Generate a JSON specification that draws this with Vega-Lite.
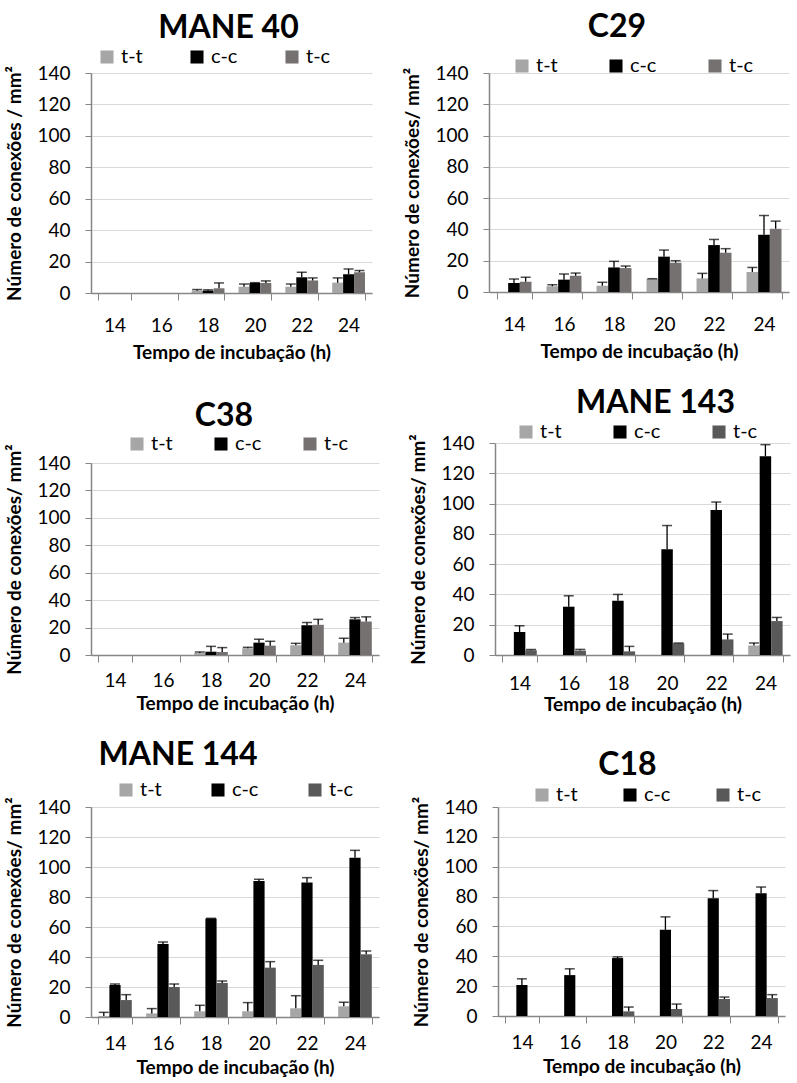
{
  "$schema": "https://vega.github.io/schema/vega-lite/v6.json",
  "background": "white",
  "padding": {"left": 5, "top": 11, "right": 5, "bottom": 0},
  "datasets": {
    "d": [
      {"p": "MANE 40", "t": 18, "s": "t-t", "v": 1.5, "u": 2.2},
      {"p": "MANE 40", "t": 18, "s": "c-c", "v": 1.5, "u": 2.0},
      {"p": "MANE 40", "t": 18, "s": "t-c", "v": 3.0, "u": 6.4},
      {"p": "MANE 40", "t": 20, "s": "t-t", "v": 4.0, "u": 5.7},
      {"p": "MANE 40", "t": 20, "s": "c-c", "v": 6.4, "u": 6.6},
      {"p": "MANE 40", "t": 20, "s": "t-c", "v": 6.4, "u": 7.7},
      {"p": "MANE 40", "t": 22, "s": "t-t", "v": 4.0, "u": 5.7},
      {"p": "MANE 40", "t": 22, "s": "c-c", "v": 10.0, "u": 13.2},
      {"p": "MANE 40", "t": 22, "s": "t-c", "v": 8.0, "u": 9.6},
      {"p": "MANE 40", "t": 24, "s": "t-t", "v": 6.6, "u": 9.6},
      {"p": "MANE 40", "t": 24, "s": "c-c", "v": 12.0, "u": 15.3},
      {"p": "MANE 40", "t": 24, "s": "t-c", "v": 13.2, "u": 14.3},

      {"p": "C29", "t": 14, "s": "c-c", "v": 5.7, "u": 8.3},
      {"p": "C29", "t": 14, "s": "t-c", "v": 6.6, "u": 9.4},
      {"p": "C29", "t": 16, "s": "t-t", "v": 3.6, "u": 4.7},
      {"p": "C29", "t": 16, "s": "c-c", "v": 7.9, "u": 11.5},
      {"p": "C29", "t": 16, "s": "t-c", "v": 10.4, "u": 12.1},
      {"p": "C29", "t": 18, "s": "t-t", "v": 4.0, "u": 6.2},
      {"p": "C29", "t": 18, "s": "c-c", "v": 15.7, "u": 19.6},
      {"p": "C29", "t": 18, "s": "t-c", "v": 15.3, "u": 16.6},
      {"p": "C29", "t": 20, "s": "t-t", "v": 8.3, "u": 8.5},
      {"p": "C29", "t": 20, "s": "c-c", "v": 22.6, "u": 26.8},
      {"p": "C29", "t": 20, "s": "t-c", "v": 18.7, "u": 20.0},
      {"p": "C29", "t": 22, "s": "t-t", "v": 8.7, "u": 11.9},
      {"p": "C29", "t": 22, "s": "c-c", "v": 30.0, "u": 33.6},
      {"p": "C29", "t": 22, "s": "t-c", "v": 25.1, "u": 27.7},
      {"p": "C29", "t": 24, "s": "t-t", "v": 12.8, "u": 15.7},
      {"p": "C29", "t": 24, "s": "c-c", "v": 36.6, "u": 48.9},
      {"p": "C29", "t": 24, "s": "t-c", "v": 40.4, "u": 45.3},

      {"p": "C38", "t": 18, "s": "t-t", "v": 1.5, "u": 2.2},
      {"p": "C38", "t": 18, "s": "c-c", "v": 2.4, "u": 6.3},
      {"p": "C38", "t": 18, "s": "t-c", "v": 2.2, "u": 5.4},
      {"p": "C38", "t": 20, "s": "t-t", "v": 4.9, "u": 5.6},
      {"p": "C38", "t": 20, "s": "c-c", "v": 9.0, "u": 11.5},
      {"p": "C38", "t": 20, "s": "t-c", "v": 6.8, "u": 10.0},
      {"p": "C38", "t": 22, "s": "t-t", "v": 7.1, "u": 8.5},
      {"p": "C38", "t": 22, "s": "c-c", "v": 21.7, "u": 23.7},
      {"p": "C38", "t": 22, "s": "t-c", "v": 22.0, "u": 26.0},
      {"p": "C38", "t": 24, "s": "t-t", "v": 9.0, "u": 12.2},
      {"p": "C38", "t": 24, "s": "c-c", "v": 26.0, "u": 27.3},
      {"p": "C38", "t": 24, "s": "t-c", "v": 24.4, "u": 27.8},

      {"p": "MANE 143", "t": 14, "s": "c-c", "v": 15.2, "u": 19.3},
      {"p": "MANE 143", "t": 14, "s": "t-c", "v": 3.1, "u": 3.7},
      {"p": "MANE 143", "t": 16, "s": "c-c", "v": 31.9, "u": 39.1},
      {"p": "MANE 143", "t": 16, "s": "t-c", "v": 2.9, "u": 3.7},
      {"p": "MANE 143", "t": 18, "s": "c-c", "v": 35.8, "u": 40.0},
      {"p": "MANE 143", "t": 18, "s": "t-c", "v": 2.4, "u": 5.7},
      {"p": "MANE 143", "t": 20, "s": "c-c", "v": 69.9, "u": 85.5},
      {"p": "MANE 143", "t": 20, "s": "t-c", "v": 7.7, "u": 7.9},
      {"p": "MANE 143", "t": 22, "s": "c-c", "v": 95.8, "u": 101.0},
      {"p": "MANE 143", "t": 22, "s": "t-c", "v": 10.3, "u": 13.8},
      {"p": "MANE 143", "t": 24, "s": "t-t", "v": 6.2, "u": 7.9},
      {"p": "MANE 143", "t": 24, "s": "c-c", "v": 131.2, "u": 138.9},
      {"p": "MANE 143", "t": 24, "s": "t-c", "v": 22.4, "u": 24.8},

      {"p": "MANE 144", "t": 14, "s": "t-t", "v": 0.7, "u": 3.1},
      {"p": "MANE 144", "t": 14, "s": "c-c", "v": 21.3, "u": 22.0},
      {"p": "MANE 144", "t": 14, "s": "t-c", "v": 11.3, "u": 14.9},
      {"p": "MANE 144", "t": 16, "s": "t-t", "v": 2.4, "u": 5.6},
      {"p": "MANE 144", "t": 16, "s": "c-c", "v": 48.7, "u": 50.0},
      {"p": "MANE 144", "t": 16, "s": "t-c", "v": 20.0, "u": 22.0},
      {"p": "MANE 144", "t": 18, "s": "t-t", "v": 3.8, "u": 7.8},
      {"p": "MANE 144", "t": 18, "s": "c-c", "v": 65.6, "u": 65.8},
      {"p": "MANE 144", "t": 18, "s": "t-c", "v": 22.7, "u": 24.0},
      {"p": "MANE 144", "t": 20, "s": "t-t", "v": 3.8, "u": 9.6},
      {"p": "MANE 144", "t": 20, "s": "c-c", "v": 90.7, "u": 91.8},
      {"p": "MANE 144", "t": 20, "s": "t-c", "v": 32.9, "u": 36.9},
      {"p": "MANE 144", "t": 22, "s": "t-t", "v": 5.8, "u": 14.2},
      {"p": "MANE 144", "t": 22, "s": "c-c", "v": 89.6, "u": 92.9},
      {"p": "MANE 144", "t": 22, "s": "t-c", "v": 34.7, "u": 37.8},
      {"p": "MANE 144", "t": 24, "s": "t-t", "v": 7.1, "u": 9.8},
      {"p": "MANE 144", "t": 24, "s": "c-c", "v": 106.2, "u": 111.1},
      {"p": "MANE 144", "t": 24, "s": "t-c", "v": 41.8, "u": 44.0},

      {"p": "C18", "t": 14, "s": "c-c", "v": 20.7, "u": 24.9},
      {"p": "C18", "t": 16, "s": "c-c", "v": 27.4, "u": 31.6},
      {"p": "C18", "t": 18, "s": "c-c", "v": 38.8, "u": 39.6},
      {"p": "C18", "t": 18, "s": "t-c", "v": 3.1, "u": 6.0},
      {"p": "C18", "t": 20, "s": "c-c", "v": 57.7, "u": 66.4},
      {"p": "C18", "t": 20, "s": "t-c", "v": 4.7, "u": 8.0},
      {"p": "C18", "t": 22, "s": "c-c", "v": 78.8, "u": 84.0},
      {"p": "C18", "t": 22, "s": "t-c", "v": 11.4, "u": 12.7},
      {"p": "C18", "t": 24, "s": "c-c", "v": 82.2, "u": 86.4},
      {"p": "C18", "t": 24, "s": "t-c", "v": 12.0, "u": 14.3}
    ]
  },
  "spacing": 25,
  "resolve": {"scale": {"x": "independent", "y": "independent", "xOffset": "independent", "color": "independent"}, "legend": {"color": "independent"}, "axis": {"x": "independent", "y": "independent"}},
  "vconcat": [
    {
      "spacing": 31,
      "resolve": {"scale": {"x": "independent", "y": "independent", "xOffset": "independent", "color": "independent"}, "legend": {"color": "independent"}},
      "hconcat": [
        {
          "width": 281, "height": 220,
          "title": {"text": "MANE 40", "dx": -3, "offset": 2},
          "data": {"name": "d"},
          "transform": [{"filter": "datum.p == 'MANE 40'"}],
          "encoding": {
            "x": {"field": "t", "type": "ordinal", "scale": {"domain": [14, 16, 18, 20, 22, 24], "paddingInner": 0.3, "paddingOuter": 0.15}, "axis": {"title": "Tempo de incubação (h)", "labelPadding": 16, "titlePadding": 8}},
            "xOffset": {"field": "s", "type": "nominal", "scale": {"domain": ["t-t", "c-c", "t-c"]}}
          },
          "layer": [
            {"mark": {"type": "bar"}, "encoding": {
              "y": {"field": "v", "type": "quantitative", "scale": {"domain": [0, 140], "nice": false}, "axis": {"title": "Número de conexões / mm²", "values": [0, 20, 40, 60, 80, 100, 120, 140]}},
              "color": {"field": "s", "type": "nominal", "scale": {"domain": ["t-t", "c-c", "t-c"], "range": ["#A6A6A6", "#000000", "#767171"]}, "legend": {"title": null, "orient": "none", "direction": "horizontal", "legendX": 6, "legendY": -26, "columnPadding": 44}}}},
            {"mark": {"type": "rule", "color": "#000000", "strokeWidth": 1.3}, "encoding": {"y": {"field": "v", "type": "quantitative", "scale": {"domain": [0, 140], "nice": false}, "axis": {"title": "Número de conexões / mm²", "values": [0, 20, 40, 60, 80, 100, 120, 140]}}, "y2": {"field": "u"}}},
            {"mark": {"type": "tick", "color": "#000000", "thickness": 1.5, "size": 10}, "encoding": {"y": {"field": "u", "type": "quantitative", "scale": {"domain": [0, 140], "nice": false}, "axis": {"title": "Número de conexões / mm²", "values": [0, 20, 40, 60, 80, 100, 120, 140]}}}}
          ]
        },
        {
          "width": 300, "height": 219,
          "title": {"text": "C29", "dx": -22, "offset": 12},
          "data": {"name": "d"},
          "transform": [{"filter": "datum.p == 'C29'"}],
          "encoding": {
            "x": {"field": "t", "type": "ordinal", "scale": {"domain": [14, 16, 18, 20, 22, 24], "paddingInner": 0.3, "paddingOuter": 0.15}, "axis": {"title": "Tempo de incubação (h)", "labelPadding": 16, "titlePadding": 8}},
            "xOffset": {"field": "s", "type": "nominal", "scale": {"domain": ["t-t", "c-c", "t-c"]}}
          },
          "layer": [
            {"mark": {"type": "bar"}, "encoding": {
              "y": {"field": "v", "type": "quantitative", "scale": {"domain": [0, 140], "nice": false}, "axis": {"title": "Número de conexões/ mm²", "values": [0, 20, 40, 60, 80, 100, 120, 140]}},
              "color": {"field": "s", "type": "nominal", "scale": {"domain": ["t-t", "c-c", "t-c"], "range": ["#A6A6A6", "#000000", "#767171"]}, "legend": {"title": null, "orient": "none", "direction": "horizontal", "legendX": 23, "legendY": -17, "columnPadding": 48}}}},
            {"mark": {"type": "rule", "color": "#000000", "strokeWidth": 1.3}, "encoding": {"y": {"field": "v", "type": "quantitative", "scale": {"domain": [0, 140], "nice": false}, "axis": {"title": "Número de conexões/ mm²", "values": [0, 20, 40, 60, 80, 100, 120, 140]}}, "y2": {"field": "u"}}},
            {"mark": {"type": "tick", "color": "#000000", "thickness": 1.5, "size": 10}, "encoding": {"y": {"field": "u", "type": "quantitative", "scale": {"domain": [0, 140], "nice": false}, "axis": {"title": "Número de conexões/ mm²", "values": [0, 20, 40, 60, 80, 100, 120, 140]}}}}
          ]
        }
      ]
    },
    {
      "spacing": 30,
      "resolve": {"scale": {"x": "independent", "y": "independent", "xOffset": "independent", "color": "independent"}, "legend": {"color": "independent"}},
      "hconcat": [
        {
          "width": 288, "height": 212,
          "title": {"text": "C38", "dx": -11, "offset": 1},
          "data": {"name": "d"},
          "transform": [{"filter": "datum.p == 'C38'"}],
          "encoding": {
            "x": {"field": "t", "type": "ordinal", "scale": {"domain": [14, 16, 18, 20, 22, 24], "paddingInner": 0.3, "paddingOuter": 0.15}, "axis": {"title": "Tempo de incubação (h)", "labelPadding": 9, "titlePadding": 4}},
            "xOffset": {"field": "s", "type": "nominal", "scale": {"domain": ["t-t", "c-c", "t-c"]}}
          },
          "layer": [
            {"mark": {"type": "bar"}, "encoding": {
              "y": {"field": "v", "type": "quantitative", "scale": {"domain": [0, 140], "nice": false, "range": [212, 20]}, "axis": {"title": "Número de conexões/ mm²", "values": [0, 20, 40, 60, 80, 100, 120, 140]}},
              "color": {"field": "s", "type": "nominal", "scale": {"domain": ["t-t", "c-c", "t-c"], "range": ["#A6A6A6", "#000000", "#767171"]}, "legend": {"title": null, "orient": "none", "direction": "horizontal", "legendX": 36, "legendY": -9, "columnPadding": 38}}}},
            {"mark": {"type": "rule", "color": "#000000", "strokeWidth": 1.3}, "encoding": {"y": {"field": "v", "type": "quantitative", "scale": {"domain": [0, 140], "nice": false, "range": [212, 20]}, "axis": {"title": "Número de conexões/ mm²", "values": [0, 20, 40, 60, 80, 100, 120, 140]}}, "y2": {"field": "u"}}},
            {"mark": {"type": "tick", "color": "#000000", "thickness": 1.5, "size": 10}, "encoding": {"y": {"field": "u", "type": "quantitative", "scale": {"domain": [0, 140], "nice": false, "range": [212, 20]}, "axis": {"title": "Número de conexões/ mm²", "values": [0, 20, 40, 60, 80, 100, 120, 140]}}}}
          ]
        },
        {
          "width": 295, "height": 212,
          "title": {"text": "MANE 143", "dx": 13, "offset": 2},
          "data": {"name": "d"},
          "transform": [{"filter": "datum.p == 'MANE 143'"}],
          "encoding": {
            "x": {"field": "t", "type": "ordinal", "scale": {"domain": [14, 16, 18, 20, 22, 24], "paddingInner": 0.3, "paddingOuter": 0.15}, "axis": {"title": "Tempo de incubação (h)", "labelPadding": 12, "titlePadding": 2}},
            "xOffset": {"field": "s", "type": "nominal", "scale": {"domain": ["t-t", "c-c", "t-c"]}}
          },
          "layer": [
            {"mark": {"type": "bar"}, "encoding": {
              "y": {"field": "v", "type": "quantitative", "scale": {"domain": [0, 140], "nice": false}, "axis": {"title": "Número de conexões/ mm²", "values": [0, 20, 40, 60, 80, 100, 120, 140]}},
              "color": {"field": "s", "type": "nominal", "scale": {"domain": ["t-t", "c-c", "t-c"], "range": ["#A6A6A6", "#000000", "#595959"]}, "legend": {"title": null, "orient": "none", "direction": "horizontal", "legendX": 21, "legendY": -21, "columnPadding": 48}}}},
            {"mark": {"type": "rule", "color": "#000000", "strokeWidth": 1.3}, "encoding": {"y": {"field": "v", "type": "quantitative", "scale": {"domain": [0, 140], "nice": false}, "axis": {"title": "Número de conexões/ mm²", "values": [0, 20, 40, 60, 80, 100, 120, 140]}}, "y2": {"field": "u"}}},
            {"mark": {"type": "tick", "color": "#000000", "thickness": 1.5, "size": 10}, "encoding": {"y": {"field": "u", "type": "quantitative", "scale": {"domain": [0, 140], "nice": false}, "axis": {"title": "Número de conexões/ mm²", "values": [0, 20, 40, 60, 80, 100, 120, 140]}}}}
          ]
        }
      ]
    },
    {
      "spacing": 33,
      "resolve": {"scale": {"x": "independent", "y": "independent", "xOffset": "independent", "color": "independent"}, "legend": {"color": "independent"}},
      "hconcat": [
        {
          "width": 288, "height": 210,
          "title": {"text": "MANE 144", "dx": -57, "offset": 8},
          "data": {"name": "d"},
          "transform": [{"filter": "datum.p == 'MANE 144'"}],
          "encoding": {
            "x": {"field": "t", "type": "ordinal", "scale": {"domain": [14, 16, 18, 20, 22, 24], "paddingInner": 0.3, "paddingOuter": 0.15}, "axis": {"title": "Tempo de incubação (h)", "labelPadding": 10, "titlePadding": 5}},
            "xOffset": {"field": "s", "type": "nominal", "scale": {"domain": ["t-t", "c-c", "t-c"]}}
          },
          "layer": [
            {"mark": {"type": "bar"}, "encoding": {
              "y": {"field": "v", "type": "quantitative", "scale": {"domain": [0, 140], "nice": false}, "axis": {"title": "Número de conexões/ mm²", "values": [0, 20, 40, 60, 80, 100, 120, 140]}},
              "color": {"field": "s", "type": "nominal", "scale": {"domain": ["t-t", "c-c", "t-c"], "range": ["#A6A6A6", "#000000", "#595959"]}, "legend": {"title": null, "orient": "none", "direction": "horizontal", "legendX": 25, "legendY": -27, "columnPadding": 46}}}},
            {"mark": {"type": "rule", "color": "#000000", "strokeWidth": 1.3}, "encoding": {"y": {"field": "v", "type": "quantitative", "scale": {"domain": [0, 140], "nice": false}, "axis": {"title": "Número de conexões/ mm²", "values": [0, 20, 40, 60, 80, 100, 120, 140]}}, "y2": {"field": "u"}}},
            {"mark": {"type": "tick", "color": "#000000", "thickness": 1.5, "size": 10}, "encoding": {"y": {"field": "u", "type": "quantitative", "scale": {"domain": [0, 140], "nice": false}, "axis": {"title": "Número de conexões/ mm²", "values": [0, 20, 40, 60, 80, 100, 120, 140]}}}}
          ]
        },
        {
          "width": 287, "height": 209,
          "title": {"text": "C18", "dx": -14, "offset": 3},
          "data": {"name": "d"},
          "transform": [{"filter": "datum.p == 'C18'"}],
          "encoding": {
            "x": {"field": "t", "type": "ordinal", "scale": {"domain": [14, 16, 18, 20, 22, 24], "paddingInner": 0.3, "paddingOuter": 0.15}, "axis": {"title": "Tempo de incubação (h)", "labelPadding": 10, "titlePadding": 5}},
            "xOffset": {"field": "s", "type": "nominal", "scale": {"domain": ["t-t", "c-c", "t-c"]}}
          },
          "layer": [
            {"mark": {"type": "bar"}, "encoding": {
              "y": {"field": "v", "type": "quantitative", "scale": {"domain": [0, 140], "nice": false}, "axis": {"title": "Número de conexões/ mm²", "values": [0, 20, 40, 60, 80, 100, 120, 140]}},
              "color": {"field": "s", "type": "nominal", "scale": {"domain": ["t-t", "c-c", "t-c"], "range": ["#A6A6A6", "#000000", "#595959"]}, "legend": {"title": null, "orient": "none", "direction": "horizontal", "legendX": 34, "legendY": -22, "columnPadding": 42}}}},
            {"mark": {"type": "rule", "color": "#000000", "strokeWidth": 1.3}, "encoding": {"y": {"field": "v", "type": "quantitative", "scale": {"domain": [0, 140], "nice": false}, "axis": {"title": "Número de conexões/ mm²", "values": [0, 20, 40, 60, 80, 100, 120, 140]}}, "y2": {"field": "u"}}},
            {"mark": {"type": "tick", "color": "#000000", "thickness": 1.5, "size": 10}, "encoding": {"y": {"field": "u", "type": "quantitative", "scale": {"domain": [0, 140], "nice": false}, "axis": {"title": "Número de conexões/ mm²", "values": [0, 20, 40, 60, 80, 100, 120, 140]}}}}
          ]
        }
      ]
    }
  ],
  "config": {
    "view": {"stroke": null},
    "font": "Lato",
    "title": {"font": "Lato", "fontSize": 32, "fontWeight": "bold", "color": "#000000", "anchor": "middle", "frame": "group"},
    "axis": {"labelFont": "Lato", "labelFontSize": 19, "labelColor": "#000000", "labelOverlap": false, "titleFont": "Lato", "titleFontSize": 19, "titleFontWeight": "bold", "titleColor": "#000000", "domainColor": "#868686", "domainWidth": 1.5, "tickColor": "#868686", "tickWidth": 1, "gridColor": "#D9D9D9", "gridWidth": 1},
    "axisX": {"labelAngle": 0, "tickBand": "extent", "grid": false, "tickSize": 7},
    "axisY": {"grid": true, "tickSize": 6, "labelPadding": 15, "titlePadding": 12},
    "legend": {"symbolType": "square", "symbolSize": 170, "symbolStrokeWidth": 0, "labelFont": "Lato", "labelFontSize": 20, "labelColor": "#000000", "labelOffset": 4, "padding": 0}
  }
}
